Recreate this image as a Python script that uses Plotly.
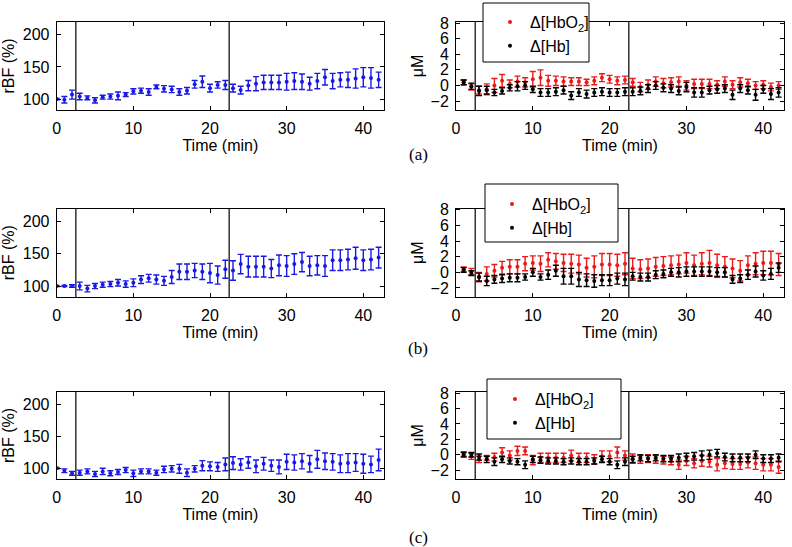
import plotly.graph_objects as go

# ---------------- data ----------------
time_rbf = list(range(0, 43))
time_hb = list(range(1, 43))
stim_times = [2.5, 22.5]
panel_labels = ["(a)", "(b)", "(c)"]
x_ticks = [0, 10, 20, 30, 40]
rbf_ticks = [100, 150, 200]
um_ticks = [-2, 0, 2, 4, 6, 8]

rbf_a = [100, 99, 107, 104, 102, 98, 103, 104, 105, 107, 112, 113, 111, 119, 116, 115, 111, 113, 123, 127,
         117, 122, 122, 117, 114, 121, 124, 126, 126, 126, 127, 128, 127, 124, 128, 134, 128, 130, 130, 132,
         134, 133, 130]
rbf_a_err = [1, 5, 7, 5, 3, 4, 3, 4, 6, 3, 4, 4, 5, 3, 5, 5, 5, 5, 6, 9,
             6, 5, 7, 6, 6, 8, 11, 11, 11, 11, 13, 13, 12, 10, 12, 12, 12, 11, 12, 15,
             15, 16, 12]
hbo2_a = [0.4, -0.2, -0.6, -0.5, 0.0, 0.6, 0.2, 0.5, 0.4, 0.8, 1.0, 0.6, 0.6, 0.5, 0.5, 0.5, 0.4, 0.6, 1.0, 0.8,
          0.6, 0.7, 0.4, -0.2, 0.1, 0.5, 0.3, 0.4, 0.5, 0.0, 0.2, 0.2, 0.2, 0.1, 0.5, 0.1, 0.4, 0.3, 0.0, 0.1,
          -0.2, 0.0]
hbo2_a_err = [0.3, 0.4, 0.5, 0.7, 0.9, 0.8, 0.5, 0.7, 0.6, 1.0, 1.0, 0.7, 0.6, 0.6, 0.5, 0.5, 0.4, 0.5, 0.5, 0.5,
              0.5, 0.5, 0.5, 0.6, 0.6, 0.6, 0.6, 0.6, 0.6, 0.6, 0.6, 0.6, 0.6, 0.5, 0.6, 0.5, 0.6, 0.5, 0.5, 0.5,
              0.5, 0.5]
hb_a = [0.4, -0.1, -0.7, -0.6, -0.9, -0.7, -0.3, -0.1, 0.0, -0.5, -0.9, -0.9, -0.8, -0.6, -1.3, -0.9, -1.1, -0.9,
        -0.8, -0.9, -0.9, -0.8, -0.8, -0.7, -0.4, 0.0, -0.3, -0.4, -0.7, -0.2, -0.9, -0.9, -0.6, -0.5, -0.4, -1.2,
        -0.4, -0.6, -1.2, -0.5, -1.1, -0.9]
hb_a_err = [0.3, 0.4, 0.6, 0.5, 0.4, 0.4, 0.4, 0.6, 0.5, 0.4, 0.5, 0.5, 0.5, 0.5, 0.5, 0.5, 0.5, 0.5, 0.5, 0.5,
            0.5, 0.5, 0.5, 0.5, 0.5, 0.5, 0.5, 0.5, 0.5, 0.6, 0.6, 0.6, 0.5, 0.5, 0.5, 0.6, 0.5, 0.5, 0.7, 0.5,
            0.7, 0.6]

rbf_b = [100, 100, 100, 100, 96, 100, 102, 103, 105, 103, 105, 110, 112, 110, 108, 114, 122, 122, 124, 122,
         120, 117, 126, 124, 134, 130, 130, 130, 127, 132, 131, 134, 137, 131, 132, 131, 140, 140, 141, 143,
         140, 141, 144]
rbf_b_err = [1, 1, 2, 6, 5, 4, 4, 4, 5, 5, 6, 6, 6, 7, 7, 10, 12, 12, 11, 12,
             15, 14, 14, 15, 15, 16, 16, 16, 14, 16, 16, 16, 15, 15, 15, 16, 16, 16, 16, 17,
             16, 16, 16]
hbo2_b = [0.4, 0.1, -0.6, -0.2, 0.2, 0.6, 0.7, 0.7, 1.1, 1.2, 1.1, 1.6, 1.4, 1.2, 1.1, 1.0, 0.6, 0.7, 1.0, 1.0,
          0.9, 1.1, 0.5, 0.4, 0.5, 0.7, 0.8, 0.9, 1.0, 1.2, 0.9, 1.1, 1.2, 0.9, 0.7, 0.5, 0.2, 0.9, 1.1, 1.2,
          1.2, 1.0]
hbo2_b_err = [0.3, 0.4, 0.6, 0.9, 0.8, 0.8, 0.9, 0.9, 0.9, 0.9, 1.0, 0.9, 1.0, 1.1, 1.2, 1.2, 1.2, 1.4, 1.4, 1.4,
              1.4, 1.4, 1.3, 1.2, 1.2, 1.2, 1.2, 1.2, 1.2, 1.3, 1.3, 1.4, 1.6, 1.4, 1.3, 1.2, 1.3, 1.2, 1.4, 1.5,
              1.5, 1.4]
hb_b = [0.3, -0.1, -0.6, -1.1, -0.9, -0.8, -0.7, -0.7, -0.6, 0.0, -0.6, -0.3, 0.2, -0.5, -0.5, -0.9, -1.0, -1.1,
        -1.0, -1.0, -0.8, -0.9, -0.5, -0.6, -0.6, -0.3, -0.2, 0.0, 0.0, 0.1, 0.1, 0.1, 0.1, 0.0, 0.0, -0.9, -0.8,
        -0.3, 0.1, -0.4, -0.2, 0.6]
hb_b_err = [0.3, 0.3, 0.5, 0.6, 0.5, 0.5, 0.5, 0.5, 0.4, 0.5, 0.4, 0.6, 0.7, 1.0, 1.0, 0.9, 0.8, 0.8, 0.7, 0.7,
            0.7, 0.8, 0.5, 0.5, 0.5, 0.5, 0.5, 0.5, 0.6, 0.6, 0.6, 0.6, 0.6, 0.6, 0.6, 0.5, 0.5, 0.6, 0.7, 0.6,
            0.7, 0.6]

rbf_c = [100, 96, 92, 93, 95, 91, 95, 92, 94, 97, 92, 95, 95, 93, 98, 99, 99, 93, 99, 104,
         103, 102, 106, 108, 106, 109, 103, 107, 104, 102, 110, 109, 111, 107, 114, 111, 110, 107, 108, 109,
         107, 106, 113]
rbf_c_err = [1, 3, 3, 4, 4, 4, 5, 4, 4, 4, 5, 4, 4, 4, 5, 5, 7, 6, 5, 8,
             7, 7, 10, 10, 9, 9, 10, 10, 9, 11, 12, 12, 12, 13, 14, 13, 13, 14, 15, 14,
             15, 13, 17]
hbo2_c = [0.1, -0.2, -0.6, -0.4, -0.3, 0.3, -0.1, 0.5, 0.5, -0.7, -0.4, -0.4, -0.4, -0.4, -0.1, -0.4, -0.4, -0.6,
          -0.2, -0.2, 0.3, -0.1, -0.5, -0.6, -0.5, -0.6, -0.7, -0.8, -1.3, -0.8, -1.1, -0.8, -0.9, -1.3, -1.1, -1.2,
          -1.2, -1.0, -1.1, -1.3, -1.3, -1.6]
hbo2_c_err = [0.3, 0.4, 0.4, 0.3, 0.5, 0.6, 0.6, 0.6, 0.5, 0.6, 0.6, 0.6, 0.6, 0.6, 0.7, 0.6, 0.6, 0.6, 0.7, 0.7,
              0.7, 0.6, 0.6, 0.5, 0.5, 0.5, 0.5, 0.5, 0.6, 0.6, 0.6, 0.7, 0.7, 0.8, 0.7, 0.7, 0.7, 0.7, 0.8, 0.8,
              0.8, 0.8]
hb_c = [0.0, 0.0, -0.3, -0.6, -0.9, -0.6, -0.8, -0.9, -1.3, -0.6, -0.7, -0.8, -0.8, -0.9, -0.8, -0.9, -0.9, -0.8,
        -0.6, -0.9, -1.3, -0.9, -0.6, -0.4, -0.5, -0.4, -0.5, -0.5, -0.4, -0.3, -0.2, -0.1, 0.0, 0.2, -0.3, -0.4,
        -0.4, -0.4, 0.0, -0.5, -0.5, -0.4]
hb_c_err = [0.3, 0.3, 0.4, 0.4, 0.5, 0.4, 0.4, 0.4, 0.5, 0.4, 0.4, 0.4, 0.4, 0.4, 0.4, 0.4, 0.4, 0.4, 0.4, 0.4,
            0.5, 0.5, 0.4, 0.4, 0.4, 0.4, 0.4, 0.4, 0.5, 0.5, 0.5, 0.6, 0.6, 0.5, 0.5, 0.5, 0.5, 0.5, 0.5, 0.5,
            0.5, 0.5]

# ---------------- layout constants ----------------
W, H = 792, 547
FONT = "Liberation Sans, Arial, Helvetica, sans-serif"
BLUE = "rgb(25,25,230)"
RED = "rgb(235,25,25)"
BLACK = "rgb(0,0,0)"

left_px = (56.7, 384.0)
right_px = (456.0, 784.0)
rows_px = [(22.0, 110.0), (208.5, 297.0), (392.0, 479.0)]
# legend frame (x0, y0, x1, y1) in pixels and legend content origin
legend_box = [(483, 3, 589, 62), (485, 184, 618, 242), (487, 379, 621, 439)]
legend_pos = [(490, 5), (492, 187), (495, 382)]
label_pos = [(418, 155), (418, 348), (418, 537)]

rows = [
    (rbf_a, rbf_a_err, hbo2_a, hbo2_a_err, hb_a, hb_a_err),
    (rbf_b, rbf_b_err, hbo2_b, hbo2_b_err, hb_b, hb_b_err),
    (rbf_c, rbf_c_err, hbo2_c, hbo2_c_err, hb_c, hb_c_err),
]

fig = go.Figure()
layout = dict(
    template="none",
    width=W, height=H, margin=dict(l=0, r=0, t=0, b=0, autoexpand=False),
    paper_bgcolor="white", plot_bgcolor="white",
    font=dict(family=FONT, size=16, color="black"),
    shapes=[], annotations=[],
)

def xd(p):
    return [p[0] / W, p[1] / W]

def yd(p):
    return [1 - p[1] / H, 1 - p[0] / H]

axis_common = dict(
    automargin=False,
    showline=True, linecolor="black", linewidth=1, mirror="ticks",
    ticks="inside", ticklen=4, tickcolor="black", tickwidth=1,
    showgrid=False, zeroline=False,
    tickfont=dict(family=FONT, size=16, color="black"),
)

for i, (rbf, rbf_err, hbo2, hbo2_err, hb, hb_err) in enumerate(rows):
    nl = 2 * i + 1
    nr = 2 * i + 2
    leg = "legend" if i == 0 else f"legend{i + 1}"
    xl = "x" if nl == 1 else f"x{nl}"
    yl = "y" if nl == 1 else f"y{nl}"
    xr, yr = f"x{nr}", f"y{nr}"

    fig.add_trace(go.Scatter(
        x=time_rbf, y=rbf, mode="markers", xaxis=xl, yaxis=yl, showlegend=False,
        marker=dict(color=BLUE, size=4),
        error_y=dict(type="data", array=rbf_err, color=BLUE, thickness=1.4, width=3),
    ))
    fig.add_trace(go.Scatter(
        x=time_hb, y=hbo2, mode="markers", xaxis=xr, yaxis=yr, name="Δ[HbO<sub>2</sub>]",
        legend=leg, marker=dict(color=RED, size=4),
        error_y=dict(type="data", array=hbo2_err, color=RED, thickness=1.4, width=3),
    ))
    fig.add_trace(go.Scatter(
        x=time_hb, y=hb, mode="markers", xaxis=xr, yaxis=yr, name="Δ[Hb]",
        legend=leg, marker=dict(color=BLACK, size=4),
        error_y=dict(type="data", array=hb_err, color=BLACK, thickness=1.4, width=3),
    ))

    kx_l = "xaxis" if nl == 1 else f"xaxis{nl}"
    ky_l = "yaxis" if nl == 1 else f"yaxis{nl}"
    layout[kx_l] = dict(axis_common, domain=xd(left_px), range=[0, 42.7], anchor=yl,
                        tickvals=x_ticks, ticklabelstandoff=4,
                        title=dict(text="Time (min)", standoff=2, font=dict(size=16)))
    layout[ky_l] = dict(axis_common, domain=yd(rows_px[i]), range=[83, 220], anchor=xl,
                        tickvals=rbf_ticks, ticklabelstandoff=3,
                        title=dict(text="rBF (%)", standoff=6, font=dict(size=16)))
    layout[f"xaxis{nr}"] = dict(axis_common, domain=xd(right_px), range=[0, 42.7], anchor=yr,
                                tickvals=x_ticks, ticklabelstandoff=4,
                                title=dict(text="Time (min)", standoff=2, font=dict(size=16)))
    layout[f"yaxis{nr}"] = dict(axis_common, domain=yd(rows_px[i]), range=[-3.15, 8.15], anchor=xr,
                                tickvals=um_ticks, ticklabelstandoff=3,
                                title=dict(text="μM", standoff=2, font=dict(size=16)))

    for (xa, ya) in ((xl, yl), (xr, yr)):
        for t in stim_times:
            layout["shapes"].append(dict(
                type="line", xref=xa, yref=f"{ya} domain", x0=t, x1=t, y0=0, y1=1,
                line=dict(color="black", width=1.2), layer="above"))

    bx0, by0, bx1, by1 = legend_box[i]
    layout["shapes"].append(dict(
        type="rect", xref="paper", yref="paper",
        x0=bx0 / W, x1=bx1 / W, y0=1 - by1 / H, y1=1 - by0 / H,
        line=dict(color="black", width=1), fillcolor="white", layer="above"))

    lx, ly = legend_pos[i]
    layout[leg] = dict(
        x=lx / W, y=1 - ly / H, xanchor="left", yanchor="top",
        bgcolor="rgba(0,0,0,0)", borderwidth=0,
        font=dict(family=FONT, size=16, color="black"),
        itemwidth=30, tracegroupgap=0,
    )

    px_, py_ = label_pos[i]
    layout["annotations"].append(dict(
        text=panel_labels[i], x=px_ / W, y=1 - py_ / H, xref="paper", yref="paper",
        showarrow=False, xanchor="center", yanchor="middle",
        font=dict(family="Liberation Serif, Times New Roman, serif", size=17, color="black")))

fig.update_layout(**layout)
fig.write_html("out.html", config={"displayModeBar": False},
               post_script="document.body.style.margin='0px';document.body.style.overflow='hidden';")
